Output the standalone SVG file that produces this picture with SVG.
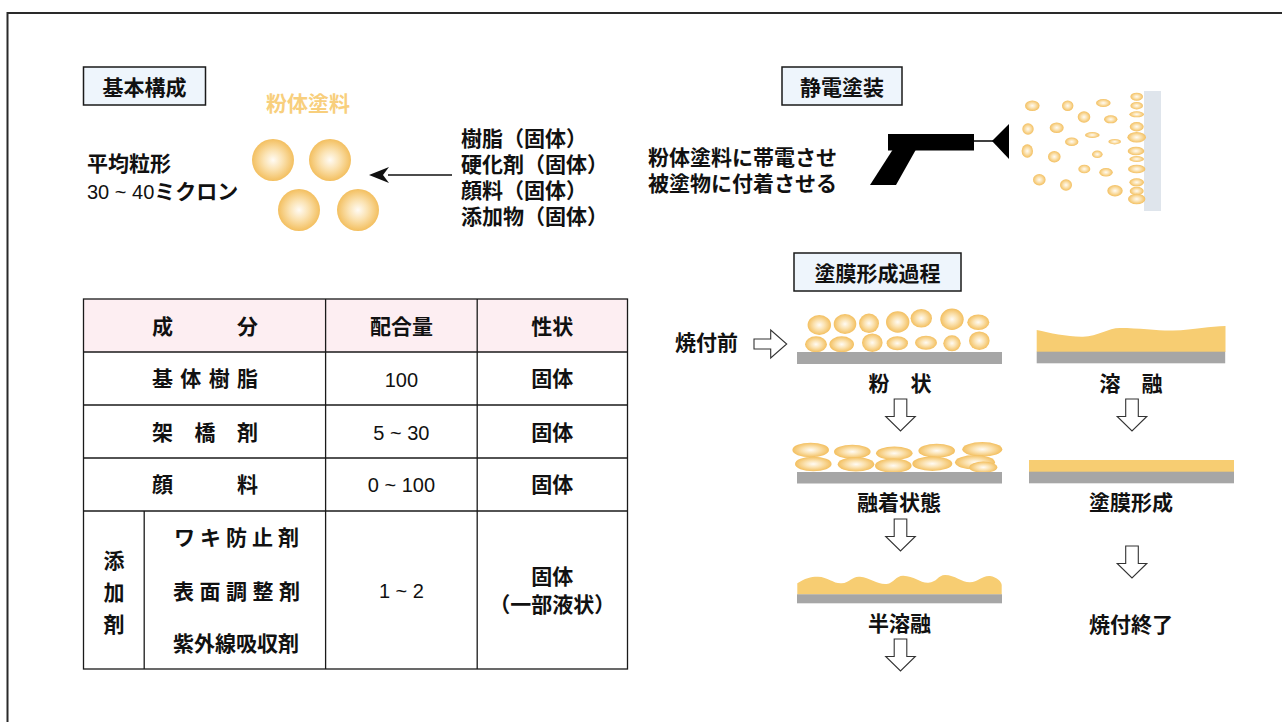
<svg xmlns="http://www.w3.org/2000/svg" width="1282" height="722" viewBox="0 0 1282 722">
  <style>
    .b { font-family: "Noto Sans CJK JP", sans-serif; font-weight: 700; font-size: 21px; fill: #111; }
    .n { font-family: "Liberation Sans", "Noto Sans CJK JP", sans-serif; font-size: 20px; fill: #111; }
    .m { text-anchor: middle; }
    .title { fill: #eef5fc; stroke: #1a1a1a; stroke-width: 1.5; }
    .grid { fill: none; stroke: #1a1a1a; stroke-width: 1.3; }
    .hollow { fill: #fff; stroke: #333; stroke-width: 1.1; }
    .base { fill: #a6a6a6; }
    .film { fill: #f7cd72; }
    .p { fill: url(#grain); }
  </style>
  <defs>
    <radialGradient id="grain" cx="50%" cy="50%" r="50%">
      <stop offset="0" stop-color="#fffbf4"/>
      <stop offset="0.45" stop-color="#fbe3b3"/>
      <stop offset="1" stop-color="#f3bf5f"/>
    </radialGradient>
    <path id="down" class="hollow" d="M-6.3,0 H6.3 V17.5 H14.8 L0,32 L-14.8,17.5 H-6.3 Z"/>
    <marker id="head" viewBox="0 0 20 16" refX="1" refY="8" markerWidth="20" markerHeight="16" markerUnits="userSpaceOnUse" orient="auto-start-reverse">
      <path d="M20,8 L0,0 L6,8 L0,16 Z" fill="#111"/>
    </marker>
  </defs>

  <rect width="1282" height="722" fill="#fff"/>
  <!-- outer frame -->
  <path d="M7.5,722 V13 H1282" fill="none" stroke="#2a2a2a" stroke-width="2"/>

  <!-- ===== basic composition ===== -->
  <g id="title-basic">
    <rect class="title" x="83.5" y="67" width="122" height="38"/>
    <text class="b m" x="144.5" y="94.5">基本構成</text>
  </g>

  <g id="powder-paint">
    <text class="b m" x="308" y="110.5" style="fill:#f8cf7d">粉体塗料</text>
    <circle class="p" cx="273" cy="160" r="21"/>
    <circle class="p" cx="330" cy="160" r="21"/>
    <circle class="p" cx="299" cy="210" r="21"/>
    <circle class="p" cx="358" cy="210" r="21"/>
  </g>

  <g id="particle-size">
    <text class="b" x="87" y="170.5">平均粒形</text>
    <text class="n" x="87" y="198.5">30 ~ 40<tspan class="b" style="font-size:21px">ミクロン</tspan></text>
  </g>

  <g id="ingredients">
    <text class="b"><tspan x="461" y="145.5">樹脂（固体）</tspan><tspan x="461" dy="26">硬化剤（固体）</tspan><tspan x="461" dy="26">顔料（固体）</tspan><tspan x="461" dy="26">添加物（固体）</tspan></text>
  </g>

  <!-- ===== electrostatic coating ===== -->
  <g id="title-electrostatic">
    <rect class="title" x="782" y="67" width="120" height="38"/>
    <text class="b m" x="842" y="94.5">静電塗装</text>
  </g>

  <g id="electrostatic-note">
    <text class="b"><tspan x="648" y="164.5">粉体塗料に帯電させ</tspan><tspan x="648" dy="26">被塗物に付着させる</tspan></text>
  </g>

  <g id="spray-gun" fill="#000">
    <rect x="888" y="134" width="86" height="16.5"/>
    <polygon points="892.5,150 915.7,150 896,185 870,185"/>
    <line x1="973" y1="141" x2="993" y2="141" stroke="#000" stroke-width="1.5"/>
    <polygon points="992,141 1009,124 1009,159"/>
  </g>

  <g id="workpiece">
    <rect x="1144" y="91" width="17" height="120" fill="#dfe5ec"/>
  </g>

  <g id="spray-particles">
    <ellipse class="p" cx="1032.3" cy="105.7" rx="7.3" ry="5.3"/>
    <ellipse class="p" cx="1028" cy="129" rx="5.7" ry="5.7"/>
    <ellipse class="p" cx="1027.3" cy="151" rx="5.7" ry="6.7"/>
    <ellipse class="p" cx="1039.3" cy="179.7" rx="6.3" ry="5.7"/>
    <ellipse class="p" cx="1067.7" cy="105.7" rx="5.7" ry="5.3"/>
    <ellipse class="p" cx="1056.7" cy="127.7" rx="7" ry="5.3"/>
    <ellipse class="p" cx="1054.3" cy="156.7" rx="6.3" ry="5.7"/>
    <ellipse class="p" cx="1066" cy="185" rx="6" ry="5.7"/>
    <ellipse class="p" cx="1084" cy="117" rx="6.3" ry="5.7"/>
    <ellipse class="p" cx="1071.7" cy="141.7" rx="6.7" ry="4.3"/>
    <ellipse class="p" cx="1084.3" cy="169" rx="6" ry="4.3"/>
    <ellipse class="p" cx="1103.3" cy="103" rx="7.3" ry="4"/>
    <ellipse class="p" cx="1110.7" cy="119.3" rx="6.7" ry="4"/>
    <ellipse class="p" cx="1092.3" cy="135" rx="7.3" ry="3"/>
    <ellipse class="p" cx="1114.7" cy="141.7" rx="6.3" ry="2.7"/>
    <ellipse class="p" cx="1097.3" cy="154.3" rx="5.3" ry="3.7"/>
    <ellipse class="p" cx="1106" cy="172.3" rx="6.7" ry="4.3"/>
    <ellipse class="p" cx="1115" cy="190.7" rx="7.7" ry="5.7"/>
    <ellipse class="p" cx="1136.7" cy="96.7" rx="6.3" ry="4"/>
    <ellipse class="p" cx="1136.7" cy="105.7" rx="6.3" ry="3.7"/>
    <ellipse class="p" cx="1136.7" cy="114.3" rx="7.3" ry="3"/>
    <ellipse class="p" cx="1136.7" cy="126.7" rx="7" ry="4.7"/>
    <ellipse class="p" cx="1136.7" cy="137.3" rx="9.3" ry="5.3"/>
    <ellipse class="p" cx="1136" cy="151" rx="8.3" ry="4.3"/>
    <ellipse class="p" cx="1136.7" cy="159" rx="7.3" ry="3"/>
    <ellipse class="p" cx="1136.7" cy="169" rx="8.7" ry="4.3"/>
    <ellipse class="p" cx="1136.7" cy="182.3" rx="7.3" ry="4"/>
    <ellipse class="p" cx="1136.7" cy="191" rx="7" ry="4.3"/>
    <ellipse class="p" cx="1136.7" cy="199" rx="8.7" ry="5.3"/>
  </g>

  <!-- ===== film formation process ===== -->
  <g id="title-film">
    <rect class="title" x="794" y="253" width="167" height="38"/>
    <text class="b m" x="877.5" y="281">塗膜形成過程</text>
  </g>

  <g id="before-baking">
    <text class="b" x="675" y="350">焼付前</text>
  </g>

  <g id="stage-powder">
    <ellipse class="p" cx="819.3" cy="325" rx="11.7" ry="10"/>
    <ellipse class="p" cx="845" cy="324" rx="11.3" ry="10"/>
    <ellipse class="p" cx="869" cy="323.3" rx="10" ry="9.7"/>
    <ellipse class="p" cx="897.7" cy="322" rx="11.7" ry="10.7"/>
    <ellipse class="p" cx="921.3" cy="318.3" rx="10.7" ry="9.3"/>
    <ellipse class="p" cx="952" cy="319.3" rx="11.7" ry="10.7"/>
    <ellipse class="p" cx="978.3" cy="322.3" rx="11" ry="7.7"/>
    <ellipse class="p" cx="816" cy="344.3" rx="11" ry="8"/>
    <ellipse class="p" cx="841.7" cy="344.3" rx="12.3" ry="8"/>
    <ellipse class="p" cx="872.3" cy="342.7" rx="10.3" ry="9.3"/>
    <ellipse class="p" cx="897.3" cy="343.3" rx="10.7" ry="7"/>
    <ellipse class="p" cx="926" cy="342.7" rx="11" ry="7"/>
    <ellipse class="p" cx="952" cy="343.3" rx="8.7" ry="8"/>
    <ellipse class="p" cx="979.3" cy="340.7" rx="10.3" ry="9.3"/>
    <rect class="base" x="797" y="352" width="205" height="12"/>
    <text class="b m" x="900" y="391">粉　状</text>
  </g>

  <g id="stage-fused">
    <ellipse class="p" cx="810.7" cy="450" rx="18.3" ry="7.3"/>
    <ellipse class="p" cx="852.3" cy="451.7" rx="18.3" ry="7"/>
    <ellipse class="p" cx="894.3" cy="453.3" rx="18.3" ry="6.7"/>
    <ellipse class="p" cx="936.7" cy="450.7" rx="18.3" ry="7"/>
    <ellipse class="p" cx="982.3" cy="449.3" rx="20" ry="7.3"/>
    <ellipse class="p" cx="813.3" cy="464" rx="18.3" ry="7.3"/>
    <ellipse class="p" cx="856" cy="464.3" rx="18.3" ry="7.3"/>
    <ellipse class="p" cx="893.3" cy="465.7" rx="18.3" ry="7.3"/>
    <ellipse class="p" cx="932.3" cy="463.7" rx="20" ry="7.3"/>
    <ellipse class="p" cx="975" cy="462.3" rx="20" ry="7.3"/>
    <ellipse class="p" cx="983.3" cy="467.3" rx="14" ry="5.7"/>
    <rect class="base" x="797" y="472" width="205" height="11.5"/>
    <text class="b m" x="899" y="510">融着状態</text>
  </g>

  <g id="stage-semimelt">
    <path class="film" d="M797.3,594.5 V583.3 C805,578 812,576.5 818,576.7 C828,577 834,584 841.7,583.3 C850,582.5 852,576 860,576.7 C870,577.5 878,585 886.7,584 C894,583 896,575.5 903.3,575.7 C914,576 920,583 928.3,582.7 C937,582.4 938,575 945,575 C955,575 962,582.5 970,582.3 C978,582 982,575.5 990,576 C997,577 1001.7,582 1001.7,585 V594.5 Z"/>
    <rect class="base" x="797" y="594.3" width="205" height="9"/>
    <text class="b m" x="899.5" y="631">半溶融</text>
  </g>

  <g id="stage-melt">
    <path class="film" d="M1036.7,352 V330 C1050,333 1068,337 1083,336.7 C1098,336.4 1108,328 1120,328 C1140,328 1160,331 1173,330.5 C1195,330 1210,326 1225.5,326 V352 Z"/>
    <rect class="base" x="1036.7" y="351.7" width="188.5" height="11.6"/>
    <text class="b m" x="1131" y="391">溶　融</text>
  </g>

  <g id="stage-film">
    <rect class="film" x="1029" y="460" width="205" height="12"/>
    <rect class="base" x="1029" y="471.7" width="205" height="11.6"/>
    <text class="b m" x="1131" y="510">塗膜形成</text>
  </g>

  <g id="stage-done">
    <text class="b m" x="1131" y="632">焼付終了</text>
  </g>

  <!-- ===== connectors ===== -->
  <g id="connectors">
    <line x1="452" y1="175" x2="388" y2="175" stroke="#111" stroke-width="1.3" marker-end="url(#head)"/>
    <path class="hollow" d="M754,339 H770.7 V330 L786.7,344 L770.7,358 V349 H754 Z"/>
    <use href="#down" x="900.5" y="399"/>
    <use href="#down" x="900.5" y="519"/>
    <use href="#down" x="900.5" y="639"/>
    <use href="#down" x="1132" y="399"/>
    <use href="#down" x="1132" y="546"/>
  </g>

  <!-- ===== composition table ===== -->
  <g id="table">
    <rect x="83.5" y="299" width="544" height="53" fill="#fdeef2"/>
    <rect class="grid" x="83.5" y="299" width="544" height="370"/>
    <line class="grid" x1="83.5" y1="352" x2="627.5" y2="352"/>
    <line class="grid" x1="83.5" y1="405" x2="627.5" y2="405"/>
    <line class="grid" x1="83.5" y1="458" x2="627.5" y2="458"/>
    <line class="grid" x1="83.5" y1="511" x2="627.5" y2="511"/>
    <line class="grid" x1="144.2" y1="511" x2="144.2" y2="669"/>
    <line class="grid" x1="325.6" y1="299" x2="325.6" y2="669"/>
    <line class="grid" x1="477.2" y1="299" x2="477.2" y2="669"/>

    <text class="b" x="152 237" y="334">成分</text>
    <text class="b m" x="401.4" y="334">配合量</text>
    <text class="b m" x="552.3" y="334">性状</text>

    <text class="b" x="152 180.3 208.7 237" y="386">基体樹脂</text>
    <text class="n m" x="401.4" y="386.5">100</text>
    <text class="b m" x="552.3" y="386">固体</text>

    <text class="b" x="152 194.5 237" y="439.5">架橋剤</text>
    <text class="n m" x="401.4" y="440">5 ~ 30</text>
    <text class="b m" x="552.3" y="439.5">固体</text>

    <text class="b" x="152 237" y="492">顔料</text>
    <text class="n m" x="401.4" y="492.3">0 ~ 100</text>
    <text class="b m" x="552.3" y="492">固体</text>

    <text class="b m" x="114" y="568">添</text>
    <text class="b m" x="114" y="599.5">加</text>
    <text class="b m" x="114" y="631.5">剤</text>
    <text class="b" x="174 200 226 252 278" y="545">ワキ防止剤</text>
    <text class="b" x="173 199.5 226 252.5 279" y="598.5">表面調整剤</text>
    <text class="b" x="173 194 215 236 257 278" y="650.5">紫外線吸収剤</text>
    <text class="n m" x="401.4" y="598">1 ~ 2</text>
    <text class="b m" x="552.3" y="583.5">固体</text>
    <text class="b m" x="552.3" y="611.5">（一部液状）</text>
  </g>
</svg>
